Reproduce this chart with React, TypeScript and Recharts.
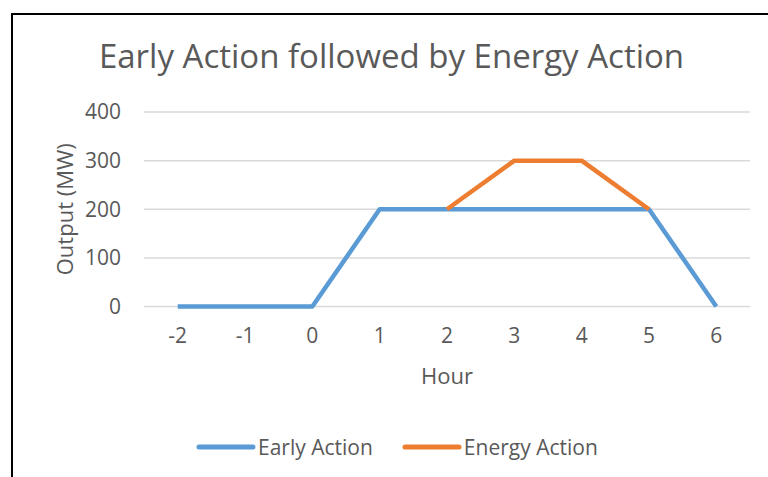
import { LineChart, Line, XAxis, YAxis, CartesianGrid, Legend, Label } from 'recharts';

const hours = ['-2', '-1', '0', '1', '2', '3', '4', '5', '6'];
const earlyAction = [0, 0, 0, 200, 200, 200, 200, 200, 0];
const energyAction = [null, null, null, null, 200, 300, 300, 200, null];
const yTicks = [0, 100, 200, 300, 400];

const data = hours.map((hour, i) => ({
  hour,
  early: earlyAction[i],
  energy: energyAction[i],
}));

const FONT = '"Open Sans", sans-serif';
const TEXT = '#595959';

const legendItems = [
  { name: 'Early Action', color: '#5B9BD5' },
  { name: 'Energy Action', color: '#ED7D31' },
];

const ChartLegend = () => (
  <div style={{ display: 'flex', alignItems: 'center', paddingLeft: 183, fontFamily: FONT, fontSize: 21, color: TEXT }}>
    {legendItems.map((item, i) => (
      <div key={item.name} style={{ display: 'flex', alignItems: 'center', marginLeft: i ? 29 : 0 }}>
        <svg width={60} height={10}>
          <line x1={3} y1={5} x2={57} y2={5} stroke={item.color} strokeWidth={5} strokeLinecap="round" />
        </svg>
        <span style={{ marginLeft: 2 }}>{item.name}</span>
      </div>
    ))}
  </div>
);

const App = () => {
  return (
    <div style={{ position: 'absolute', left: 11, top: 13, width: 780, height: 480, border: '2px solid #000', background: '#fff' }}>
      <div
        style={{
          position: 'absolute',
          left: 0,
          top: 21,
          width: 757,
          textAlign: 'center',
          fontFamily: FONT,
          fontSize: 33,
          color: TEXT,
          lineHeight: '40px',
        }}
      >
        Early Action followed by Energy Action
      </div>
      <LineChart width={755} height={462} data={data} margin={{ top: 97, right: 18, left: 0, bottom: 110.5 }}>
        <CartesianGrid vertical={false} stroke="#d9d9d9" strokeWidth={1.5} />
        <XAxis
          dataKey="hour"
          height={60}
          padding={{ left: 33.7, right: 33.7 }}
          axisLine={false}
          tickLine={false}
          tickMargin={16}
          tick={{ fill: TEXT, fontSize: 21, fontFamily: FONT }}
        >
          <Label
            content={({ viewBox }: any) => (
              <text
                x={viewBox.x + viewBox.width / 2}
                y={viewBox.y + 77.5}
                textAnchor="middle"
                fill={TEXT}
                fontSize={22}
                fontFamily={FONT}
              >
                Hour
              </text>
            )}
          />
        </XAxis>
        <YAxis
          width={131}
          domain={[0, 400]}
          ticks={yTicks}
          axisLine={false}
          tickLine={false}
          tickMargin={17}
          tick={{ fill: TEXT, fontSize: 21, fontFamily: FONT }}
        >
          <Label
            content={({ viewBox }: any) => {
              const cx = viewBox.x + 51;
              const cy = viewBox.y + viewBox.height / 2;
              return (
                <text
                  x={cx}
                  y={cy}
                  transform={`rotate(-90, ${cx}, ${cy})`}
                  textAnchor="middle"
                  dominantBaseline="central"
                  fill={TEXT}
                  fontSize={22}
                  fontFamily={FONT}
                >
                  Output (MW)
                </text>
              );
            }}
          />
        </YAxis>
        <Legend
          layout="horizontal"
          verticalAlign="middle"
          content={() => <ChartLegend />}
          wrapperStyle={{ top: 418, left: 0, width: 755 }}
        />
        <Line
          type="linear"
          dataKey="early"
          name="Early Action"
          stroke="#5B9BD5"
          strokeWidth={4.5}
          strokeLinejoin="round"
          dot={false}
          activeDot={false}
          isAnimationActive={false}
        />
        <Line
          type="linear"
          dataKey="energy"
          name="Energy Action"
          stroke="#ED7D31"
          strokeWidth={4.5}
          strokeLinejoin="round"
          dot={false}
          activeDot={false}
          isAnimationActive={false}
        />
      </LineChart>
    </div>
  );
};

export default App;
